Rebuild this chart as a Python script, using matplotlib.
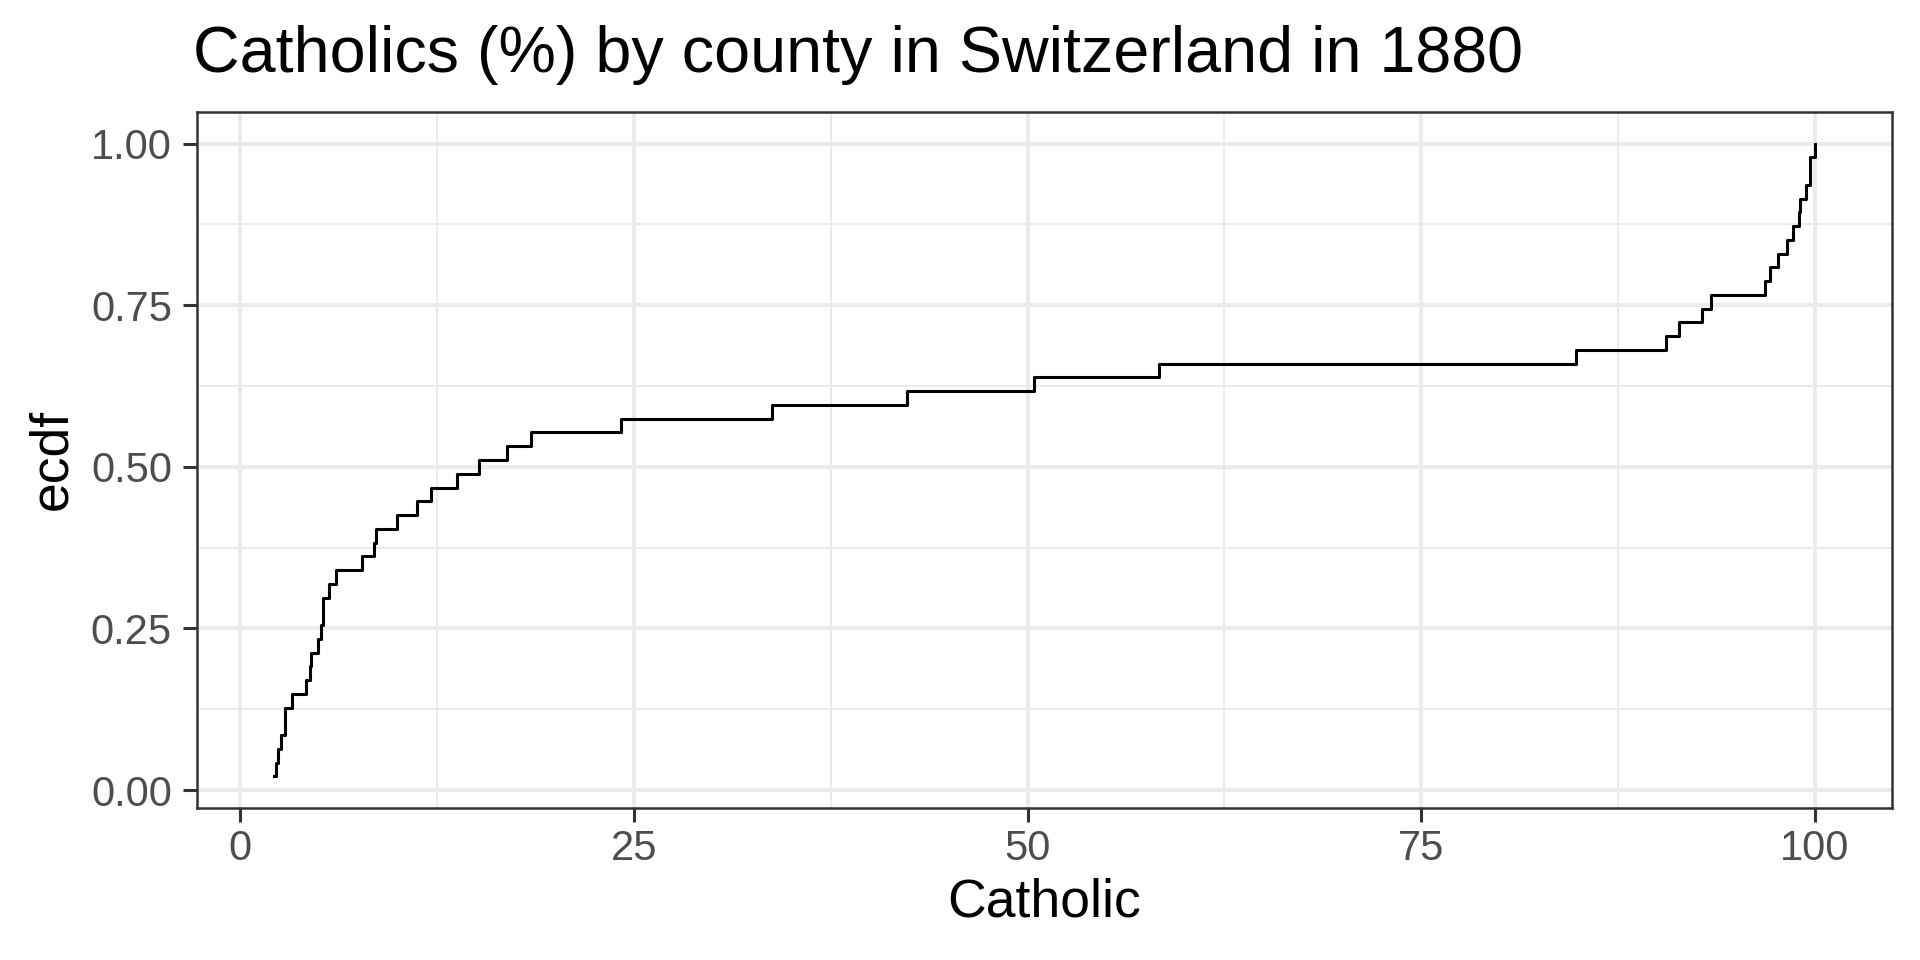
import matplotlib
matplotlib.use("Agg")
import matplotlib.pyplot as plt
import numpy as np

# share of Catholics (%) in the 47 Swiss districts, 1888 fertility survey
catholic = [9.96, 84.84, 93.40, 33.77, 5.16, 90.57, 92.85, 97.16, 97.67, 91.38,
            98.61, 8.52, 2.27, 4.43, 2.82, 24.20, 3.30, 12.11, 2.15, 2.84,
            5.23, 4.52, 15.14, 4.20, 2.40, 5.23, 2.56, 7.72, 18.46, 6.10,
            99.71, 99.68, 100.00, 98.96, 98.22, 99.06, 99.46, 96.83, 5.62, 13.79,
            11.22, 16.92, 4.97, 8.65, 42.34, 50.43, 58.33]

x_breaks = [0, 25, 50, 75, 100]
x_minor = [12.5, 37.5, 62.5, 87.5]
y_breaks = [0.0, 0.25, 0.50, 0.75, 1.00]
y_minor = [0.125, 0.375, 0.625, 0.875]

plt.rcParams['font.family'] = ['Liberation Sans', 'DejaVu Sans']

x = np.sort(np.array(catholic))
n = len(x)
y = np.arange(1, n + 1) / n

fig = plt.figure(figsize=(19.2, 9.6), dpi=100)
ax = fig.add_axes([197 / 1920, 1 - 808 / 960, (1892 - 197) / 1920, (808 - 112) / 960])

# grid like theme_bw
for v in x_minor:
    ax.axvline(v, color='#EBEBEB', lw=1.4, zorder=0)
for v in y_minor:
    ax.axhline(v, color='#EBEBEB', lw=1.4, zorder=0)
for v in x_breaks:
    ax.axvline(v, color='#EBEBEB', lw=2.9, zorder=0)
for v in y_breaks:
    ax.axhline(v, color='#EBEBEB', lw=2.9, zorder=0)

ax.step(x, y, where='post', color='black', lw=2.2, zorder=2)

xr = x.max() - x.min()
ax.set_xlim(x.min() - 0.05 * xr, x.max() + 0.05 * xr)
yr = y.max() - y.min()
ax.set_ylim(y.min() - 0.05 * yr, y.max() + 0.05 * yr)

ax.set_xticks(x_breaks)
ax.set_xticklabels([str(b) for b in x_breaks])
ax.set_yticks(y_breaks)
ax.set_yticklabels(['%.2f' % b for b in y_breaks])
ax.tick_params(axis='both', length=10, width=2.2, color='#333333',
               labelcolor='#4D4D4D', labelsize=30)
ax.tick_params(axis='x', pad=5)
ax.tick_params(axis='y', pad=8)

for s in ax.spines.values():
    s.set_color('#333333')
    s.set_linewidth(1.8)

ax.set_xlabel('Catholic', fontsize=38.5, labelpad=6)
ax.set_ylabel('ecdf', fontsize=38.5, labelpad=10)

fig.text(193 / 1920, 1 - 72 / 960, 'Catholics (%) by county in Switzerland in 1880',
         fontsize=46.5, ha='left', va='baseline')

plt.savefig('out.png', dpi=100)
plt.close()
